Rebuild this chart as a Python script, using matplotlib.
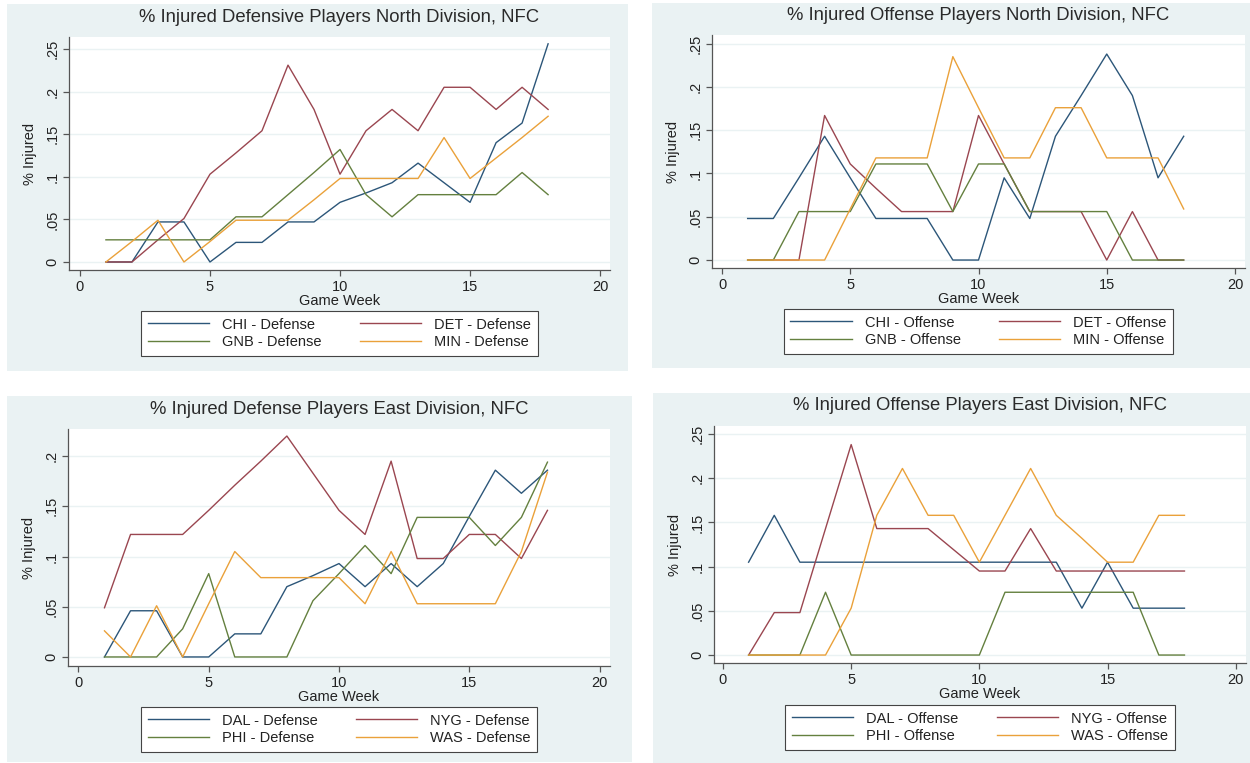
import matplotlib
matplotlib.use("Agg")
import matplotlib.pyplot as plt
from matplotlib.patches import Rectangle

plt.rcParams['font.family'] = ['Liberation Sans', 'DejaVu Sans']

weeks = list(range(1, 19))

# NFC North - defense
chi_def = [0, 0, .047, .047, 0, .023, .023, .047, .047, .070, .081, .093, .116, .093, .070, .140, .163, .256]
det_def = [0, 0, .026, .051, .103, .128, .154, .231, .179, .103, .154, .179, .154, .205, .205, .179, .205, .179]
gnb_def = [.026, .026, .026, .026, .026, .053, .053, .079, .105, .132, .079, .053, .079, .079, .079, .079, .105, .079]
min_def = [0, .024, .049, 0, .024, .049, .049, .049, .073, .098, .098, .098, .098, .146, .098, .122, .146, .171]

# NFC North - offense
chi_off = [.048, .048, .095, .143, .095, .048, .048, .048, 0, 0, .095, .048, .143, .190, .238, .190, .095, .143]
det_off = [0, 0, 0, .167, .111, .083, .056, .056, .056, .167, .111, .056, .056, .056, 0, .056, 0, 0]
gnb_off = [0, 0, .056, .056, .056, .111, .111, .111, .056, .111, .111, .056, .056, .056, .056, 0, 0, 0]
min_off = [0, 0, 0, 0, .059, .118, .118, .118, .235, .176, .118, .118, .176, .176, .118, .118, .118, .059]

# NFC East - defense
dal_def = [0, .046, .046, 0, 0, .023, .023, .070, .081, .093, .070, .093, .070, .093, .140, .186, .163, .186]
nyg_def = [.049, .122, .122, .122, .146, .171, .195, .220, .183, .146, .122, .195, .098, .098, .122, .122, .098, .146]
phi_def = [0, 0, 0, .028, .083, 0, 0, 0, .056, .083, .111, .083, .139, .139, .139, .111, .139, .194]
was_def = [.026, 0, .051, 0, .053, .105, .079, .079, .079, .079, .053, .105, .053, .053, .053, .053, .105, .184]

# NFC East - offense
dal_off = [.105, .158, .105, .105, .105, .105, .105, .105, .105, .105, .105, .105, .105, .053, .105, .053, .053, .053]
nyg_off = [0, .048, .048, .143, .238, .143, .143, .143, .119, .095, .095, .143, .095, .095, .095, .095, .095, .095]
phi_off = [0, 0, 0, .071, 0, 0, 0, 0, 0, 0, .071, .071, .071, .071, .071, .071, 0, 0]
was_off = [0, 0, 0, 0, .053, .158, .211, .158, .158, .105, .158, .211, .158, .132, .105, .105, .158, .158]

north_teams = ["CHI", "DET", "GNB", "MIN"]
east_teams = ["DAL", "NYG", "PHI", "WAS"]

titles = ["% Injured Defensive Players North Division, NFC",
          "% Injured Offense Players North Division, NFC",
          "% Injured Defense Players East Division, NFC",
          "% Injured Offense Players East Division, NFC"]

yticks_all = [[0, .05, .1, .15, .2, .25], [0, .05, .1, .15, .2, .25],
              [0, .05, .1, .15, .2], [0, .05, .1, .15, .2, .25]]
ytick_labels = {0: "0", .05: ".05", .1: ".1", .15: ".15", .2: ".2", .25: ".25"}
xticks = [0, 5, 10, 15, 20]

colors = ["#2c5679", "#9a4650", "#64803f", "#eaa13a"]
bg = "#eaf2f3"
W, H = 1250, 763

fig = plt.figure(figsize=(12.5, 7.63), dpi=100)


def rect(l, t, r, b):
    return [l / W, 1 - b / H, (r - l) / W, (b - t) / H]


panels = [
    dict(series=[chi_def, det_def, gnb_def, min_def], teams=north_teams, side="Defense",
         bg=(7, 4, 628, 371), ax=(69, 37, 610, 270), xlim=(-0.42, 20.38), ylim=(-0.0094, 0.264),
         title_y=17, leg_top=311),
    dict(series=[chi_off, det_off, gnb_off, min_off], teams=north_teams, side="Offense",
         bg=(652, 3, 1250, 368), ax=(712, 35, 1245, 268), xlim=(-0.39, 20.39), ylim=(-0.0092, 0.26),
         title_y=16, leg_top=309),
    dict(series=[dal_def, nyg_def, phi_def, was_def], teams=east_teams, side="Defense",
         bg=(7, 396, 632, 762), ax=(68, 429, 610, 666), xlim=(-0.4, 20.4), ylim=(-0.009, 0.227),
         title_y=409, leg_top=707),
    dict(series=[dal_off, nyg_off, phi_off, was_off], teams=east_teams, side="Offense",
         bg=(653, 393, 1250, 763), ax=(714, 426, 1246, 663), xlim=(-0.35, 20.4), ylim=(-0.009, 0.259),
         title_y=406, leg_top=705),
]

for i, p in enumerate(panels):
    l, t, r, b = p["bg"]
    fig.patches.append(Rectangle((l / W, 1 - b / H), (r - l) / W, (b - t) / H,
                                 transform=fig.transFigure, facecolor=bg, edgecolor="none", zorder=-5))
    ax = fig.add_axes(rect(*p["ax"]))
    ax.set_facecolor("white")
    lines = []
    for vals, team, c in zip(p["series"], p["teams"], colors):
        ln, = ax.plot(weeks, vals, color=c, lw=1.0, label=team + " - " + p["side"])
        lines.append(ln)
    ax.set_xlim(*p["xlim"])
    ax.set_ylim(*p["ylim"])
    ax.set_xticks(xticks)
    yt = yticks_all[i]
    ax.set_yticks(yt)
    ax.set_yticklabels([ytick_labels[v] for v in yt], rotation=90, va="center")
    for s in ["top", "right"]:
        ax.spines[s].set_visible(False)
    for s in ["left", "bottom"]:
        ax.spines[s].set_color("#555555")
        ax.spines[s].set_linewidth(0.9)
    ax.tick_params(direction="out", length=4, width=0.9, color="#555555",
                   labelsize=10.5, labelcolor="#222222", pad=3)
    ax.grid(axis="y", color=bg, lw=1.0)
    ax.set_axisbelow(True)
    ax.set_xlabel("Game Week", fontsize=10.5, color="#222222", labelpad=0)
    ax.set_ylabel("% Injured", fontsize=10.5, color="#222222", labelpad=6)

    cx = (p["ax"][0] + p["ax"][2]) / 2
    fig.text(cx / W, 1 - p["title_y"] / H, titles[i], ha="center", va="center",
             fontsize=13.3, color="#2a2a2a")

    order = [lines[0], lines[2], lines[1], lines[3]]
    leg = ax.legend(handles=order, loc="upper center", ncol=2,
                    bbox_to_anchor=(cx / W, 1 - p["leg_top"] / H), bbox_transform=fig.transFigure,
                    frameon=True, fancybox=False, framealpha=1, edgecolor="#444444",
                    fontsize=10.5, handlelength=4.2, handletextpad=0.9, columnspacing=2.6,
                    labelspacing=0.25, borderpad=0.45, borderaxespad=0)
    leg.get_frame().set_linewidth(0.8)
    for txt in leg.get_texts():
        txt.set_color("#222222")

fig.savefig("out.png", dpi=100, facecolor="white")
